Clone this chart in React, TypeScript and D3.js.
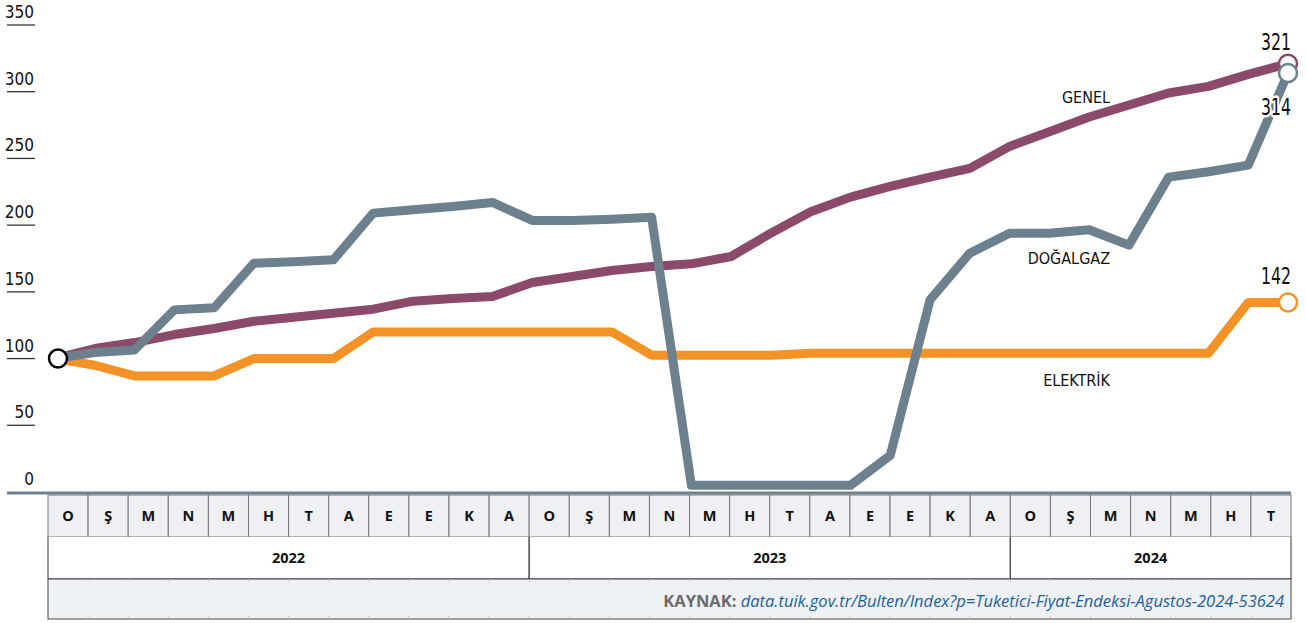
import React from "react";
import * as d3 from "d3";

const monthLabels = ["O","Ş","M","N","M","H","T","A","E","E","K","A","O","Ş","M","N","M","H","T","A","E","E","K","A","O","Ş","M","N","M","H","T"];
const yearLabels = ["2022", "2023", "2024"];
const yearMonthCounts = [12, 12, 7];
const yTicks = [0, 50, 100, 150, 200, 250, 300, 350];

// index 0 = base (100), then 31 months Jan 2022 .. Jul 2024
const genel = [100,107.5,112,118,122.5,128,131,134,137,143,145,146.5,157,161.5,166,169,171,176.5,194,210,221,229,236,242.5,259,270,281,290,299,304,313,321];
const dogalgaz = [100,104.5,106.5,136.5,138,171.5,172.5,174,209,211.5,214,217,203.5,203.5,204.5,206,5,5,5,5,5,27.5,144,179,194,194,196.5,185,236,240,245,314];
const elektrik = [100,95,87,87,87,100,100,100,120,120,120,120,120,120,120,102.5,102.5,102.5,102.5,104,104,104,104,104,104,104,104,104,104,104,142,142];

const seriesNames = ["GENEL", "ELEKTRİK", "DOĞALGAZ"];
const seriesColors = ["#8b4a6a", "#f39325", "#6d808d"];
const seriesValues = [genel, elektrik, dogalgaz];
const endLabels = ["321", "142", "314"];

const W = 1306, H = 623;
const FONT = "'Liberation Sans Narrow', 'DejaVu Sans Condensed', 'Noto Sans', sans-serif";
const FONT2 = "'Open Sans', 'Noto Sans', sans-serif";

export default function App() {
  const x = d3.scaleLinear().domain([0, 31]).range([55, 1288]);
  const y = d3.scaleLinear().domain([0, 350]).range([492, 25]);
  const band = d3.scaleBand<number>().domain(d3.range(monthLabels.length)).range([48, 1291]).paddingInner(0).paddingOuter(0);
  const bw = band.bandwidth();
  const line = d3.line<number>().x((_, i) => x(i)).y((v) => y(v)).curve(d3.curveLinear);

  const row1Top = 495, row1Bot = 537, row2Bot = 579, row3Bot = 619;
  const tableL = 48, tableR = 1291;

  const yearStarts: number[] = [];
  let acc = 0;
  yearMonthCounts.forEach((c) => { yearStarts.push(acc); acc += c; });

  const nameLabels = [
    { t: seriesNames[0], x: 1110, y: 103 },
    { t: seriesNames[1], x: 1110, y: 386 },
    { t: seriesNames[2], x: 1110, y: 264 },
  ];
  const endLabelOffsets = [-14, -19, 42];

  return (
    <svg width={W} height={H} style={{ position: "absolute", left: 0, top: 0, background: "#fff" }} xmlns="http://www.w3.org/2000/svg">
      {yTicks.map((t) => (
        <g key={t}>
          <text x={34} y={y(t) - 7} textAnchor="end" fontFamily={FONT} fontSize={17} fill="#111">{t}</text>
          {t > 0 && <line x1={7} x2={35} y1={y(t)} y2={y(t)} stroke="#333" strokeWidth={1.3} />}
        </g>
      ))}

      {monthLabels.map((m, i) => (
        <g key={i}>
          <rect x={band(i)!} y={row1Top} width={bw} height={row1Bot - row1Top} fill="#eef0f3" stroke="#777" strokeWidth={1} />
          <text x={band(i)! + bw / 2} y={row1Top + 26} textAnchor="middle" fontFamily={FONT2} fontWeight={700} fontSize={14.5} fill="#111">{m}</text>
        </g>
      ))}
      <rect x={tableL} y={row1Bot} width={tableR - tableL} height={row2Bot - row1Bot} fill="#fff" />
      {yearLabels.map((yl, k) => {
        const s = band(yearStarts[k])!;
        const e = band(yearStarts[k] + yearMonthCounts[k] - 1)! + bw;
        return (
          <g key={yl}>
            <line x1={s} x2={s} y1={row1Bot} y2={row2Bot} stroke="#555" strokeWidth={1.2} />
            <line x1={e} x2={e} y1={row1Bot} y2={row2Bot} stroke="#555" strokeWidth={1.2} />
            <text x={(s + e) / 2} y={row1Bot + 26} textAnchor="middle" fontFamily={FONT2} fontWeight={700} fontSize={14.5} fill="#111">{yl}</text>
          </g>
        );
      })}
      <line x1={tableL} x2={tableR} y1={row2Bot} y2={row2Bot} stroke="#222" strokeWidth={1.2} />
      <rect x={tableL} y={row2Bot} width={tableR - tableL} height={row3Bot - row2Bot} fill="#eef1f5" stroke="#444" strokeWidth={1} />
      {monthLabels.map((_, i) => i > 0 && (
        <g key={"g" + i}>
          <line x1={band(i)!} x2={band(i)!} y1={row2Bot} y2={row2Bot + 3} stroke="#bbb" strokeWidth={0.8} />
          <line x1={band(i)!} x2={band(i)!} y1={row3Bot - 3} y2={row3Bot} stroke="#bbb" strokeWidth={0.8} />
        </g>
      ))}
      <text x={1284} y={row2Bot + 28} textAnchor="end" fontFamily={FONT2} fontSize={16.5}>
        <tspan fontWeight={700} fill="#6b6b6b">KAYNAK: </tspan>
        <tspan fontStyle="italic" fill="#1c5fa3">data.tuik.gov.tr/Bulten/Index?p=Tuketici-Fiyat-Endeksi-Agustos-2024-53624</tspan>
      </text>

      <line x1={7} x2={tableR} y1={493} y2={493} stroke="#6d808d" strokeWidth={3} />

      {seriesValues.map((vals, k) => (
        <path key={k} d={line(vals) || ""} fill="none" stroke={seriesColors[k]} strokeWidth={9} strokeLinejoin="round" strokeLinecap="butt" />
      ))}

      <circle cx={x(0) + 3} cy={y(100)} r={9} fill="#fff" stroke="#000" strokeWidth={2.5} />

      {seriesValues.map((vals, k) => (
        <circle key={"c" + k} cx={x(31)} cy={y(vals[31])} r={9} fill="#fff" stroke={seriesColors[k]} strokeWidth={2.5} />
      ))}
      {seriesValues.map((vals, k) => (
        <text key={"l" + k} x={1291} y={y(vals[31]) + endLabelOffsets[k]} textAnchor="end" fontFamily={FONT} fontSize={23}
          textLength={30} lengthAdjust="spacingAndGlyphs"
          fill="#111" stroke="#fff" strokeWidth={5} paintOrder="stroke" strokeLinejoin="round">{endLabels[k]}</text>
      ))}

      {nameLabels.map((n) => (
        <text key={n.t} x={n.x} y={n.y} textAnchor="end" fontFamily={FONT} fontSize={16} fill="#111">{n.t}</text>
      ))}
    </svg>
  );
}
